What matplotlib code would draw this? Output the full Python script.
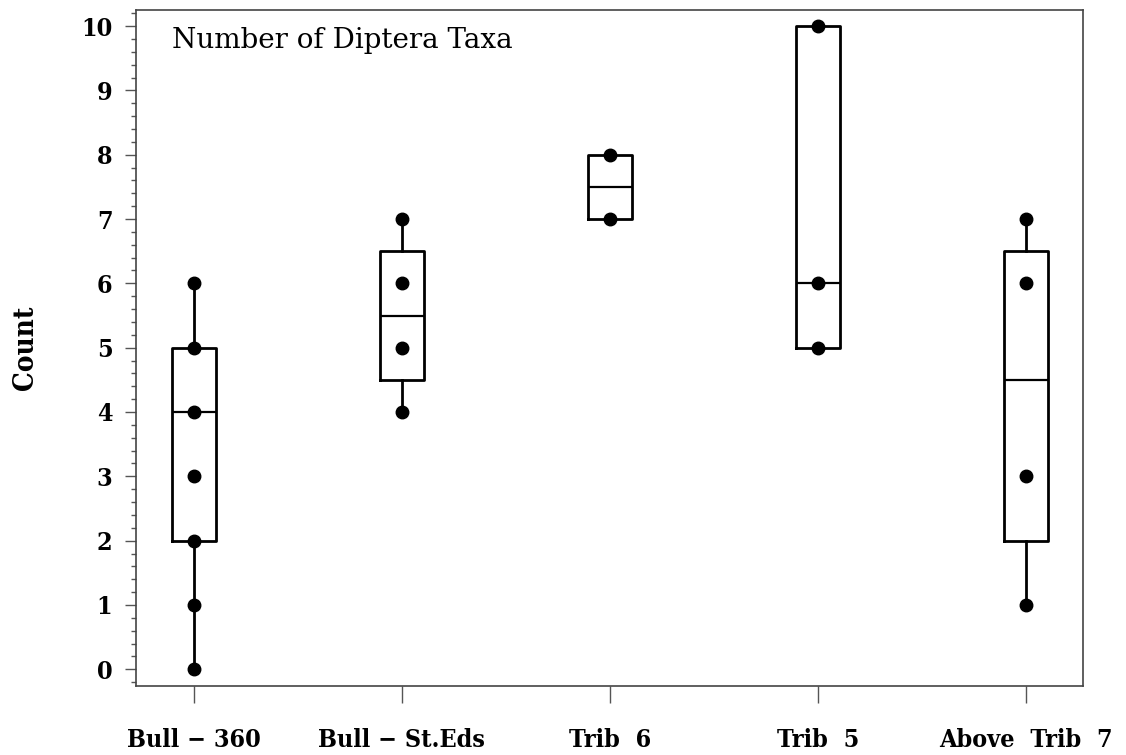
import numpy as np
import matplotlib.pyplot as plt
from matplotlib.ticker import MultipleLocator

plt.rcParams['font.family'] = ['DejaVu Serif']

# sites and observed counts (one dot per observation)
sites = ["Bull \u2212 360", "Bull \u2212 St.Eds", "Trib  6", "Trib  5", "Above  Trib  7"]
bull_360 = [0, 1, 2, 3, 4, 5, 6]
bull_steds = [4, 5, 6, 7]
trib_6 = [7, 8]
trib_5 = [5, 6, 10]
above_trib_7 = [1, 3, 6, 7]
counts = [bull_360, bull_steds, trib_6, trib_5, above_trib_7]

# box summaries as drawn in the chart
q1 = [2, 4.5, 7, 5, 2]
med = [4, 5.5, 7.5, 6, 4.5]
q3 = [5, 6.5, 8, 10, 6.5]
lo = [0, 4, 7, 5, 1]
hi = [6, 7, 8, 10, 7]

fig = plt.figure(figsize=(11.26, 7.55), dpi=100)
ax = fig.add_axes([136 / 1126, 1 - 686 / 755, (1083 - 136) / 1126, (686 - 10) / 755])

stats = []
for i in range(len(sites)):
    stats.append(dict(q1=q1[i], med=med[i], q3=q3[i], whislo=lo[i], whishi=hi[i], fliers=[]))
pos = np.arange(1, len(sites) + 1)
ax.bxp(stats, positions=pos, widths=0.21, showcaps=False,
       boxprops=dict(color="black", linewidth=2.0),
       whiskerprops=dict(color="black", linewidth=2.0),
       medianprops=dict(color="black", linewidth=1.6))

for p, c in zip(pos, counts):
    ax.plot([p] * len(c), c, "o", color="black", markersize=9, zorder=5)

tick_font = dict(family="DejaVu Serif", size=18, weight="bold", stretch="condensed")
ax.set_xlim(0.722, 5.275)
ax.set_ylim(-0.26, 10.25)
ax.set_xticks(pos)
ax.set_xticklabels(sites, fontdict=tick_font)
ax.set_yticks(range(0, 11))
ax.set_yticklabels([str(v) for v in range(0, 11)], fontdict=tick_font)
ax.yaxis.set_minor_locator(MultipleLocator(0.2))
ax.tick_params(axis="x", length=12, width=1, color="#555555", pad=18)
ax.tick_params(axis="y", which="major", length=8, width=1, color="#555555", pad=9)
ax.tick_params(axis="y", which="minor", length=3.6, width=1, color="#555555")
for s in ax.spines.values():
    s.set_color("#444444")
    s.set_linewidth(1.2)

ax.set_ylabel("Count", fontsize=20, fontweight="bold", fontstretch="condensed", labelpad=30)
ax.text(0.038, 0.975, "Number of Diptera Taxa", transform=ax.transAxes,
        fontsize=20, va="top", ha="left")

fig.savefig("out.png", dpi=100)
